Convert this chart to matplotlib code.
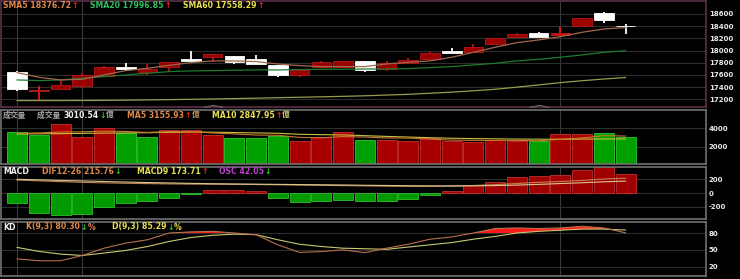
import numpy as np
import matplotlib
matplotlib.use("Agg")
import matplotlib.pyplot as plt

plt.rcParams["axes.unicode_minus"] = False

# ---- data (29 trading days) ----
opens  = [17655, 17330, 17371, 17425, 17584, 17737, 17644, 17737, 17857, 17890,
          17906, 17857, 17759, 17595, 17726, 17737, 17830, 17698, 17802, 17857,
          17994, 17983, 18108, 18218, 18283, 18261, 18409, 18611, 18409]
closes = [17365, 17350, 17436, 17600, 17737, 17704, 17698, 17808, 17835, 17939,
          17819, 17780, 17600, 17682, 17808, 17830, 17682, 17802, 17846, 17955,
          17966, 18064, 18201, 18267, 18228, 18294, 18529, 18502, 18395]
highs  = [17660, 17420, 17535, 17638, 17753, 17791, 17775, 17808, 17999, 17939,
          17906, 17928, 17759, 17690, 17830, 17835, 17830, 17830, 17873, 17972,
          18048, 18103, 18205, 18283, 18300, 18392, 18529, 18627, 18436]
lows   = [17343, 17180, 17365, 17382, 17573, 17671, 17600, 17655, 17835, 17808,
          17780, 17780, 17573, 17573, 17726, 17726, 17655, 17666, 17791, 17857,
          17955, 17983, 18108, 18218, 18228, 18245, 18409, 18447, 18267]
sma5  = [17638, 17562, 17518, 17529, 17600, 17671, 17709, 17758, 17802, 17830,
         17830, 17819, 17780, 17753, 17737, 17737, 17737, 17780, 17808, 17830,
         17890, 17972, 18054, 18130, 18174, 18228, 18300, 18354, 18377]
sma20 = [17518, 17507, 17518, 17545, 17573, 17600, 17627, 17655, 17666, 17671,
         17677, 17682, 17682, 17688, 17693, 17693, 17698, 17698, 17704, 17720,
         17737, 17764, 17791, 17830, 17857, 17890, 17928, 17972, 17997]
sma60 = [17179, 17180, 17180, 17181, 17183, 17186, 17190, 17195, 17200, 17206,
         17212, 17219, 17227, 17234, 17241, 17249, 17258, 17270, 17282, 17300,
         17318, 17340, 17365, 17400, 17436, 17474, 17505, 17533, 17558]

volume = [3630, 3272, 4468, 3090, 4000, 3456, 3090, 3815, 3815, 3272,
          2980, 2980, 3163, 2620, 3090, 3630, 2728, 2728, 2620, 2910,
          2620, 2546, 2728, 2620, 2655, 3345, 3417, 3456, 3010]
vol_up = [0, 0, 1, 1, 1, 0, 0, 1, 1, 1, 0, 0, 0, 1, 1, 1, 0, 1, 1, 1,
          1, 1, 1, 1, 0, 1, 1, 0, 0]
vol_ma5  = [3450, 3500, 3600, 3620, 3690, 3660, 3550, 3650, 3650, 3490,
            3390, 3270, 3240, 3010, 2970, 3100, 3050, 2950, 2940, 2820,
            2720, 2690, 2690, 2690, 2640, 2800, 2960, 3200, 3156]
vol_ma10 = [3380, 3400, 3420, 3450, 3480, 3500, 3520, 3560, 3600, 3580,
            3540, 3500, 3460, 3350, 3310, 3280, 3200, 3120, 3050, 2980,
            2920, 2880, 2860, 2830, 2820, 2810, 2830, 2840, 2848]

dif   = [190, 178, 166, 156, 148, 142, 137, 133, 130, 128, 126, 124, 120, 116, 112,
         108, 104, 100, 98, 98, 102, 110, 122, 140, 156, 168, 184, 204, 216]
macd9 = [200, 192, 184, 176, 168, 160, 153, 147, 141, 136, 132, 129, 126, 123, 120,
         117, 113, 110, 106, 104, 103, 104, 108, 116, 126, 138, 150, 164, 174]
osc   = [-146, -292, -327, -307, -210, -146, -122, -73, -8, 48, 44, 25, -73, -132, -122,
         -107, -122, -122, -88, -34, 34, 122, 161, 229, 243, 268, 341, 375, 282]

k_vals = [34, 30.6, 30.6, 40, 53, 62, 68, 80, 82, 83, 80, 77, 59, 45.5, 47,
          50, 45, 53, 60, 69, 73, 80, 88, 89, 88, 89, 92, 89, 80.3]
d_vals = [54.4, 47.3, 42.5, 40, 44.3, 49, 56, 65, 72, 76, 78, 77, 68, 60, 56,
          53, 52, 51, 55, 59, 63, 69, 74, 80, 83, 85, 87, 87, 85.3]

month_lines = [0, 3, 25]
peak_marks = [9, 24]

W, H = 740, 279
fig = plt.figure(figsize=(W / 100, H / 100), dpi=100, facecolor="black")


def make_ax(top, bottom, edge):
    ax = fig.add_axes([1 / W, 1 - bottom / H, 705 / W, (bottom - top) / H])
    ax.set_facecolor("black")
    for s in ax.spines.values():
        s.set_color(edge)
        s.set_linewidth(1.2)
    ax.yaxis.tick_right()
    ax.tick_params(axis="y", length=0, pad=2, labelsize=5, labelcolor="#e8e8e8")
    ax.set_xticks([])
    ax.set_xlim(-0.74, 31.7)
    for m in month_lines:
        ax.axvline(m, color="#3a3a3a", lw=0.8, zorder=0)
    return ax


def style_ticks(ax, ticks):
    ax.set_yticks(ticks)
    ax.yaxis.grid(True, color="#2e2e2e", lw=0.8)
    ax.set_axisbelow(True)
    for lab in ax.get_yticklabels():
        lab.set_fontweight("bold")


x = np.arange(len(closes))
o, c = np.array(opens), np.array(closes)
up = c >= o
doji = np.abs(c - o) < 40

# ---- price panel ----
ax1 = make_ax(1, 107, "#5c3048")
ax1.set_ylim(17074, 18813)
style_ticks(ax1, np.arange(17200, 18601, 200))
wick_col = np.where(up, np.where(doji, "#f01818", "#c81010"), "#ffffff")
ax1.vlines(x, lows, highs, colors=wick_col, lw=1.3, zorder=2)
body_h = np.maximum(np.abs(c - o), 10)
body_col = np.where(up, np.where(doji, "#d01010", "#9a0000"), "#ffffff")
edge_col = np.where(up, "#b81818", "#ffffff")
ax1.bar(x, body_h, bottom=np.minimum(o, c), width=0.9,
        color=body_col, edgecolor=edge_col, lw=0.6, zorder=3)
ax1.plot(x, sma60, color="#9a9a50", lw=0.9, zorder=4)
ax1.plot(x, sma20, color="#1f7a2e", lw=0.9, zorder=4)
ax1.plot(x, sma5, color="#a06a50", lw=0.9, zorder=4)
ax1.plot(peak_marks, [17074] * len(peak_marks), ls="none",
         marker=[(-1, 0), (0, 0.22), (1, 0)], ms=14, mfc="none",
         mec="#6a6a6a", mew=0.8, clip_on=False, zorder=5)

# ---- volume panel ----
ax2 = make_ax(110, 164, "#707070")
ax2.set_ylim(120, 5990)
style_ticks(ax2, [2000, 4000])
vu = np.array(vol_up, dtype=bool)
vol = np.array(volume)
ax2.bar(x[vu], vol[vu], width=0.92, color="#a80000", edgecolor="#c83030", lw=0.6)
ax2.bar(x[~vu], vol[~vu], width=0.92, color="#00a000", edgecolor="#30c830", lw=0.6)
ax2.plot(x, vol_ma10, color="#c8c040", lw=0.8)
ax2.plot(x, vol_ma5, color="#c87830", lw=0.8)

# ---- MACD panel ----
ax3 = make_ax(167, 219, "#707070")
ax3.set_ylim(-380, 380)
style_ticks(ax3, [-200, 0, 200])
ov = np.array(osc)
pos = ov >= 0
ax3.bar(x[pos], ov[pos], width=0.92, color="#a00000", edgecolor="#c03030", lw=0.6)
ax3.bar(x[~pos], ov[~pos], width=0.92, color="#009a00", edgecolor="#30c030", lw=0.6)
ax3.plot(x, dif, color="#c08050", lw=0.8)
ax3.plot(x, macd9, color="#d8c890", lw=0.8)

# ---- KD panel ----
ax4 = make_ax(222, 276, "#707070")
ax4.set_ylim(3.5, 99.6)
style_ticks(ax4, [20, 50, 80])
kv, dv = np.array(k_vals), np.array(d_vals)
floor = np.maximum(dv, 80)
ax4.fill_between(x, kv, floor, where=kv > floor, interpolate=True,
                 color="#ff1a1a", lw=0, zorder=2)
ax4.plot(x, d_vals, color="#c8c870", lw=0.8, zorder=3)
ax4.plot(x, k_vals, color="#b87050", lw=0.8, zorder=3)

# ---- header texts ----
FAM = ["DejaVu Sans", "Noto Sans CJK TC"]
RED, GRN = "#ff2020", "#20d020"
renderer = fig.canvas.get_renderer()


def header(x0, y0, pieces):
    xp = x0
    for txt, col in pieces:
        t = fig.text(xp / W, 1 - y0 / H, txt, color=col, fontsize=5.6,
                     fontweight="bold", family=FAM, va="center", ha="left")
        xp = t.get_window_extent(renderer).x1 + 0.5


header(3, 6, [("SMA5 18376.72", "#e08848"), ("↑", RED)])
header(90, 6, [("SMA20 17996.85", "#30c060"), ("↑", RED)])
header(183, 6, [("SMA60 17558.29", "#e8e050"), ("↑", RED)])

header(3, 115, [("成交量", "#a8a8a8")])
header(37, 115, [("成交量 ", "#a8a8a8"), ("3010.54", "#f0f0f0"), ("↓", GRN), ("億", "#a8a8a8")])
header(127, 115, [("MA5 3155.93", "#e08848"), ("↑", RED), ("億", "#c09060")])
header(212, 115, [("MA10 2847.95", "#e8e050"), ("↑", RED), ("億", "#d0c870")])

header(3, 171, [("MACD", "#f0f0f0")])
header(42, 171, [("DIF12-26 215.76", "#e08848"), ("↓", GRN)])
header(137, 171, [("MACD9 173.71", "#e8e050"), ("↑", RED)])
header(219, 171, [("OSC 42.05", "#c040d0"), ("↓", GRN)])

header(3, 227, [("KD", "#f0f0f0")])
header(26, 227, [("K(9,3) 80.30", "#e08848"), ("↓", GRN), ("%", "#e08848")])
header(112, 227, [("D(9,3) 85.29", "#e8e050"), ("↓", GRN), ("%", "#e8e050")])

fig.savefig("out.png", dpi=100, facecolor="black")
